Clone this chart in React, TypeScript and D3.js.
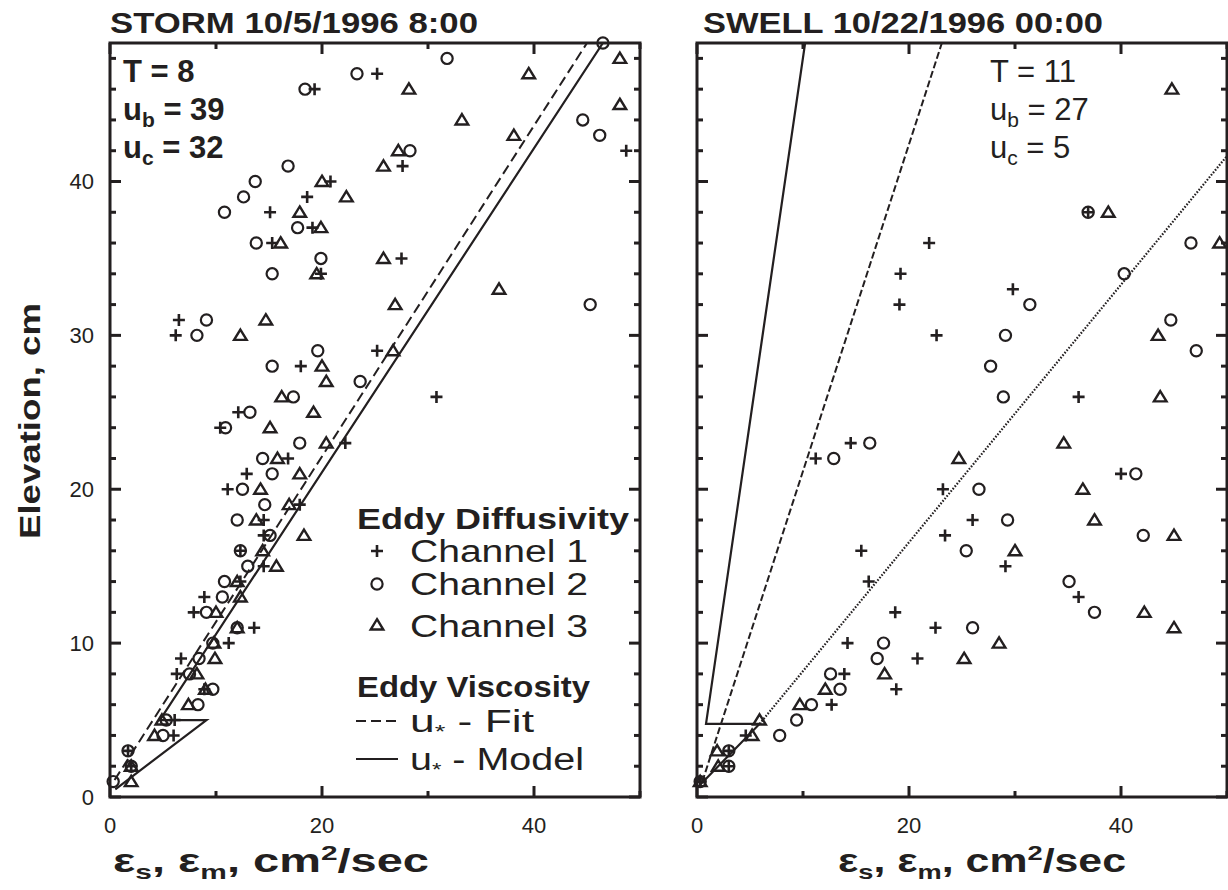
import React from 'react';
import * as d3 from 'd3';

const FONT = '"Liberation Sans", Arial, Helvetica, sans-serif';
const INK = '#231f20';

type Pt = [number, number]; // [eddy coefficient cm^2/s, elevation cm]

// ---------- STORM 10/5/1996 8:00 ----------
const stormChannel1: Pt[] = [
  [2.0, 2], [1.7, 3], [6.0, 4], [6.1, 5], [8.9, 7], [6.3, 8], [6.7, 9], [11.2, 10], [13.6, 11],
  [7.9, 12], [8.9, 13], [12.3, 14], [14.5, 15], [12.3, 16], [14.5, 17], [14.5, 18], [17.9, 19],
  [11.1, 20], [12.9, 21], [16.8, 22], [22.2, 23], [10.4, 24], [12.1, 25], [30.8, 26], [18.0, 28],
  [25.2, 29], [6.2, 30], [6.5, 31], [19.9, 34], [27.5, 35], [15.3, 36], [19.1, 37], [15.1, 38],
  [18.6, 39], [20.8, 40], [27.6, 41], [48.7, 42], [19.3, 46], [25.2, 47],
];
const stormChannel2: Pt[] = [
  [0.3, 1], [2.0, 2], [1.7, 3], [5.0, 4], [5.3, 5], [8.3, 6], [9.7, 7], [7.5, 8], [8.4, 9], [9.7, 10],
  [12.0, 11], [9.1, 12], [10.6, 13], [10.8, 14], [13.0, 15], [12.3, 16], [15.1, 17], [12.0, 18],
  [14.6, 19], [12.5, 20], [15.3, 21], [14.4, 22], [17.9, 23], [10.9, 24], [13.2, 25], [17.3, 26],
  [23.6, 27], [15.3, 28], [19.6, 29], [8.2, 30], [9.1, 31], [45.3, 32], [15.3, 34], [19.9, 35],
  [13.8, 36], [17.7, 37], [10.8, 38], [12.6, 39], [13.7, 40], [16.8, 41], [28.3, 42], [46.2, 43],
  [44.6, 44], [18.4, 46], [23.3, 47], [31.8, 48], [46.5, 49],
];
const stormChannel3: Pt[] = [
  [2.0, 1], [2.0, 2], [4.2, 4], [4.9, 5], [7.4, 6], [9.0, 7], [8.2, 8], [9.9, 9], [9.8, 10], [12.0, 11],
  [10.0, 12], [12.3, 13], [12.0, 14], [15.7, 15], [14.4, 16], [18.3, 17], [13.8, 18], [16.9, 19],
  [14.2, 20], [17.9, 21], [15.8, 22], [20.4, 23], [15.1, 24], [19.2, 25], [16.2, 26], [20.4, 27],
  [20.0, 28], [26.7, 29], [12.3, 30], [14.7, 31], [26.9, 32], [36.7, 33], [19.5, 34], [25.8, 35],
  [16.1, 36], [19.9, 37], [17.9, 38], [22.3, 39], [20.0, 40], [25.8, 41], [27.2, 42], [38.1, 43],
  [33.2, 44], [48.1, 45], [28.2, 46], [39.5, 47], [48.1, 48],
];
const stormFit: Pt[] = [[0.43, 1.1], [45.0, 49]];
const stormModel: Pt[] = [[0.5, 0.5], [9.1, 5], [4.7, 5], [46.5, 49]];

// ---------- SWELL 10/22/1996 00:00 ----------
const swellChannel1: Pt[] = [
  [0.3, 1], [3.0, 2], [3.0, 3], [4.6, 4], [12.7, 6], [18.8, 7], [13.9, 8], [20.8, 9], [14.2, 10],
  [22.5, 11], [18.7, 12], [36.0, 13], [16.2, 14], [29.1, 15], [15.5, 16], [23.4, 17], [26.0, 18],
  [23.2, 20], [40.0, 21], [11.2, 22], [14.5, 23], [36.0, 26], [22.6, 30], [19.1, 32], [29.8, 33],
  [19.2, 34], [21.9, 36], [36.9, 38],
];
const swellChannel2: Pt[] = [
  [0.3, 1], [3.0, 2], [3.0, 3], [7.8, 4], [9.4, 5], [10.8, 6], [13.5, 7], [12.6, 8], [17.0, 9],
  [17.6, 10], [26.0, 11], [37.5, 12], [35.1, 14], [25.4, 16], [42.1, 17], [29.3, 18], [26.6, 20],
  [41.4, 21], [12.9, 22], [16.3, 23], [28.9, 26], [27.7, 28], [47.1, 29], [29.1, 30], [44.7, 31],
  [31.4, 32], [40.3, 34], [46.6, 36], [36.9, 38],
];
const swellChannel3: Pt[] = [
  [0.3, 1], [2.0, 2], [1.9, 3], [5.2, 4], [5.9, 5], [9.7, 6], [12.1, 7], [17.7, 8], [25.2, 9],
  [28.5, 10], [45.0, 11], [42.2, 12], [30.0, 16], [45.0, 17], [37.5, 18], [36.4, 20], [24.7, 22],
  [34.6, 23], [43.7, 26], [43.5, 30], [49.3, 36], [38.8, 38], [44.8, 46],
];
const swellFit: Pt[] = [[0.5, 1], [23.1, 49]];
const swellModel: Pt[] = [[0.3, 0.8], [5.9, 4.75], [0.85, 4.75], [10.2, 49]];
const swellModelUpper: Pt[] = [[5.9, 4.75], [50, 41.66]];

// ---------- axes ----------
const xDomain: [number, number] = [0, 50];
const yDomain: [number, number] = [0, 49];
const xTickValues = [0, 10, 20, 30, 40, 50];
const xMajorTicks = [0, 20, 40];
const xTickLabels = ['0', '20', '40'];
const yTickValues = [0, 2, 4, 6, 8, 10, 12, 14, 16, 18, 20, 22, 24, 26, 28, 30, 32, 34, 36, 38, 40, 42, 44, 46, 48];
const yMajorTicks = [0, 10, 20, 30, 40];
const yTickLabels = ['0', '10', '20', '30', '40'];

const PLOT_TOP = 43;
const PLOT_BOTTOM = 797;

function Plus({ cx, cy }: { cx: number; cy: number }) {
  return <path d={`M${cx - 6},${cy}H${cx + 6}M${cx},${cy - 6}V${cy + 6}`} stroke={INK} strokeWidth={2.6} fill="none" />;
}
function Circ({ cx, cy }: { cx: number; cy: number }) {
  return <circle cx={cx} cy={cy} r={5.6} stroke={INK} strokeWidth={2.2} fill="none" />;
}
function Tri({ cx, cy }: { cx: number; cy: number }) {
  return (
    <path
      d={`M${cx},${cy - 5.8}L${cx + 6.3},${cy + 4.5}L${cx - 6.3},${cy + 4.5}Z`}
      stroke={INK}
      strokeWidth={2.4}
      fill="none"
      strokeLinejoin="miter"
    />
  );
}

interface PanelProps {
  id: string;
  left: number;
  right: number;
  ch1: Pt[];
  ch2: Pt[];
  ch3: Pt[];
  fit: Pt[];
  fitDash: string;
  model: Pt[];
  upper?: Pt[];
  yLabels: boolean;
}

function Panel(p: PanelProps) {
  const x = d3.scaleLinear().domain(xDomain).range([p.left, p.right]);
  const y = d3.scaleLinear().domain(yDomain).range([PLOT_BOTTOM, PLOT_TOP]);
  const line = d3.line<Pt>().x((d) => x(d[0])).y((d) => y(d[1]));
  const w = p.right - p.left;
  const h = PLOT_BOTTOM - PLOT_TOP;
  return (
    <g>
      <defs>
        <clipPath id={`clip-${p.id}`}>
          <rect x={p.left} y={PLOT_TOP} width={w} height={h} />
        </clipPath>
      </defs>
      <g clipPath={`url(#clip-${p.id})`}>
        <path d={line(p.fit) || ''} stroke={INK} strokeWidth={2} fill="none" strokeDasharray={p.fitDash} />
        <path d={line(p.model) || ''} stroke={INK} strokeWidth={2.2} fill="none" strokeLinejoin="miter" />
        {p.upper && (
          <path d={line(p.upper) || ''} stroke={INK} strokeWidth={2.2} fill="none" strokeDasharray="1.6,1.6" />
        )}
      </g>
      {p.ch1.map((d, i) => (
        <Plus key={`a${i}`} cx={x(d[0])} cy={y(d[1])} />
      ))}
      {p.ch2.map((d, i) => (
        <Circ key={`b${i}`} cx={x(d[0])} cy={y(d[1])} />
      ))}
      {p.ch3.map((d, i) => (
        <Tri key={`c${i}`} cx={x(d[0])} cy={y(d[1])} />
      ))}
      <rect x={p.left} y={PLOT_TOP} width={w} height={h} fill="none" stroke={INK} strokeWidth={3} />
      {xTickValues.map((v) => {
        const len = xMajorTicks.includes(v) ? 11 : 6;
        const px = x(v);
        return (
          <g key={`xt${v}`}>
            <line x1={px} x2={px} y1={PLOT_BOTTOM} y2={PLOT_BOTTOM - len} stroke={INK} strokeWidth={3} />
            <line x1={px} x2={px} y1={PLOT_TOP} y2={PLOT_TOP + len} stroke={INK} strokeWidth={3} />
          </g>
        );
      })}
      {yTickValues.map((v) => {
        const len = yMajorTicks.includes(v) ? 11 : 6;
        const py = y(v);
        return (
          <g key={`yt${v}`}>
            <line x1={p.left} x2={p.left + len} y1={py} y2={py} stroke={INK} strokeWidth={3} />
            <line x1={p.right} x2={p.right - len} y1={py} y2={py} stroke={INK} strokeWidth={3} />
          </g>
        );
      })}
      {xMajorTicks.map((v, i) => (
        <text key={`xl${v}`} x={x(v)} y={833} textAnchor="middle" fontSize={22} fontFamily={FONT} fill={INK}>
          {xTickLabels[i]}
        </text>
      ))}
      {p.yLabels &&
        yMajorTicks.map((v, i) => (
          <text key={`yl${v}`} x={94} y={y(v) + 8} textAnchor="end" fontSize={22} fontFamily={FONT} fill={INK}>
            {yTickLabels[i]}
          </text>
        ))}
    </g>
  );
}

function XLabel({ x0, len }: { x0: number; len: number }) {
  return (
    <text
      x={x0}
      y={872}
      fontSize={33}
      fontWeight="bold"
      fontFamily={FONT}
      fill={INK}
      textLength={len}
      lengthAdjust="spacingAndGlyphs"
    >
      ε<tspan dy={7} fontSize={21}>s</tspan>
      <tspan dy={-7}>, ε</tspan>
      <tspan dy={7} fontSize={21}>m</tspan>
      <tspan dy={-7}>, cm</tspan>
      <tspan dy={-12} fontSize={21}>2</tspan>
      <tspan dy={12}>/sec</tspan>
    </text>
  );
}

export default function App() {
  return (
    <svg
      width={1228}
      height={890}
      viewBox="0 0 1228 890"
      style={{ position: 'absolute', left: 0, top: 0, background: '#fff' }}
    >
      <rect x={0} y={0} width={1228} height={890} fill="#fff" />
      <Panel
        id="storm"
        left={110}
        right={640}
        ch1={stormChannel1}
        ch2={stormChannel2}
        ch3={stormChannel3}
        fit={stormFit}
        fitDash="10,5"
        model={stormModel}
        yLabels={true}
      />
      <Panel
        id="swell"
        left={697}
        right={1227}
        ch1={swellChannel1}
        ch2={swellChannel2}
        ch3={swellChannel3}
        fit={swellFit}
        fitDash="7,3"
        model={swellModel}
        upper={swellModelUpper}
        yLabels={false}
      />

      <text x={110} y={33} fontSize={29} fontWeight="bold" fontFamily={FONT} fill={INK} textLength={368} lengthAdjust="spacingAndGlyphs">
        STORM 10/5/1996 8:00
      </text>
      <text x={703} y={33} fontSize={29} fontWeight="bold" fontFamily={FONT} fill={INK} textLength={400} lengthAdjust="spacingAndGlyphs">
        SWELL 10/22/1996 00:00
      </text>

      <g fontFamily={FONT} fontWeight="bold" fontSize={31} fill={INK}>
        <text x={123} y={82}>T = 8</text>
        <text x={123} y={120}>
          u<tspan dy={7} fontSize={21}>b</tspan>
          <tspan dy={-7}> = 39</tspan>
        </text>
        <text x={123} y={158}>
          u<tspan dy={7} fontSize={21}>c</tspan>
          <tspan dy={-7}> = 32</tspan>
        </text>
      </g>
      <g fontFamily={FONT} fontSize={31} fill={INK}>
        <text x={990} y={82}>T = 11</text>
        <text x={990} y={120}>
          u<tspan dy={7} fontSize={21}>b</tspan>
          <tspan dy={-7}> = 27</tspan>
        </text>
        <text x={990} y={158}>
          u<tspan dy={7} fontSize={21}>c</tspan>
          <tspan dy={-7}> = 5</tspan>
        </text>
      </g>

      <g fontFamily={FONT} fill={INK}>
        <text x={357} y={529} fontSize={30} fontWeight="bold" textLength={272} lengthAdjust="spacingAndGlyphs">
          Eddy Diffusivity
        </text>
        <Plus cx={377} cy={551} />
        <text x={410} y={562} fontSize={31} textLength={178} lengthAdjust="spacingAndGlyphs">Channel 1</text>
        <Circ cx={377} cy={584} />
        <text x={410} y={595} fontSize={31} textLength={178} lengthAdjust="spacingAndGlyphs">Channel 2</text>
        <Tri cx={377} cy={625} />
        <text x={410} y={637} fontSize={31} textLength={178} lengthAdjust="spacingAndGlyphs">Channel 3</text>
        <text x={357} y={697} fontSize={30} fontWeight="bold" textLength={233} lengthAdjust="spacingAndGlyphs">
          Eddy Viscosity
        </text>
        <line x1={356} x2={398} y1={721} y2={721} stroke={INK} strokeWidth={2} strokeDasharray="10,5" />
        <text x={410} y={732} fontSize={31} textLength={124} lengthAdjust="spacingAndGlyphs">
          u<tspan dy={6} fontSize={19}>*</tspan>
          <tspan dy={-6}> - Fit</tspan>
        </text>
        <line x1={356} x2={398} y1={759} y2={759} stroke={INK} strokeWidth={2.2} />
        <text x={410} y={770} fontSize={31} textLength={174} lengthAdjust="spacingAndGlyphs">
          u<tspan dy={6} fontSize={19}>*</tspan>
          <tspan dy={-6}> - Model</tspan>
        </text>
      </g>

      <text
        transform="translate(40,421) rotate(-90)"
        x={-118}
        y={0}
        fontSize={30}
        fontWeight="bold"
        fontFamily={FONT}
        fill={INK}
        textLength={236}
        lengthAdjust="spacingAndGlyphs"
      >
        Elevation, cm
      </text>
      <XLabel x0={113} len={316} />
      <XLabel x0={838} len={288} />
    </svg>
  );
}
